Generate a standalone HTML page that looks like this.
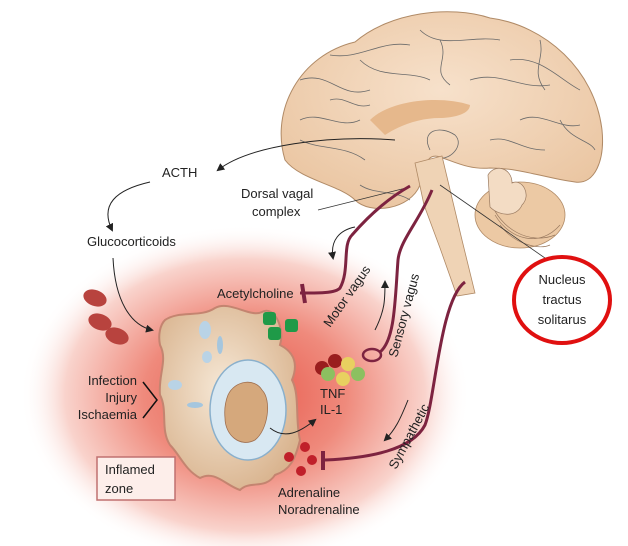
<!DOCTYPE html>
<html><head><style>
body{margin:0;background:#fff;}
svg{display:block;font-family:"Liberation Sans",Arial,sans-serif;}
</style></head><body>
<svg width="628" height="546" viewBox="0 0 628 546" xmlns="http://www.w3.org/2000/svg">
<defs>
<radialGradient id="glow" cx="0.5" cy="0.5" r="0.5">
<stop offset="0" stop-color="#e8574a"/>
<stop offset="0.45" stop-color="#ef8a7c"/>
<stop offset="0.8" stop-color="#f9d3cc"/>
<stop offset="1" stop-color="#ffffff" stop-opacity="0"/>
</radialGradient>
<radialGradient id="cellg" cx="0.45" cy="0.45" r="0.6">
<stop offset="0" stop-color="#f6e8d6"/>
<stop offset="1" stop-color="#d9b48f"/>
</radialGradient>
<radialGradient id="brain" cx="0.5" cy="0.4" r="0.7">
<stop offset="0" stop-color="#f7e1cb"/>
<stop offset="1" stop-color="#e9c39e"/>
</radialGradient>
<marker id="ah" markerWidth="8" markerHeight="8" refX="6" refY="4" orient="auto" markerUnits="userSpaceOnUse">
<path d="M0,0 L8,4 L0,8 Z" fill="#222"/>
</marker>
</defs>

<ellipse cx="245" cy="395" rx="225" ry="170" fill="url(#glow)"/>

<!-- brain -->
<path d="M285,160 C270,110 300,55 355,42 C390,12 450,5 490,18 C545,25 595,70 602,130 C605,160 595,185 575,182 C545,178 520,168 490,168 C470,170 455,162 440,157 C425,152 425,170 420,185 C410,210 370,215 355,200 C340,185 300,180 285,160 Z" fill="url(#brain)" stroke="#b08a66" stroke-width="1"/>
<path d="M300,80 C330,70 340,100 370,90 M330,55 C360,60 380,40 410,45 M420,30 C440,50 470,35 500,40 M510,60 C540,55 560,80 580,90 M300,120 C320,110 340,130 360,120 M560,120 C570,140 590,140 595,150 M470,80 C500,70 520,90 550,85 M360,60 C380,80 410,70 430,80 M520,120 C540,110 560,130 580,125 M300,140 C320,150 345,145 365,160 M440,40 C450,60 430,70 450,85 M540,40 C545,60 530,70 545,90 M330,100 C345,95 355,110 370,105 M490,140 C510,135 520,150 545,150 M360,185 C375,195 395,190 410,200" stroke="#6a6a6a" stroke-width="0.8" fill="none"/>
<path d="M370,120 C390,100 440,95 470,105 C470,115 450,118 440,118 C420,118 400,125 385,135 Z" fill="#e6b88c"/>
<path d="M430,150 C420,130 440,125 455,135 C465,145 450,160 440,158" stroke="#6a6a6a" stroke-width="0.8" fill="none"/>
<path d="M415,163 L442,156 L462,240 L475,293 L457,296 L440,248 L424,205 Z" fill="#efd3b5" stroke="#b08a66" stroke-width="0.8"/>
<ellipse cx="520" cy="215" rx="45" ry="33" fill="#ecc9a4" stroke="#b08a66" stroke-width="0.8"/>
<path d="M490,200 C500,230 530,245 555,235 M495,215 C510,240 540,248 560,225 M500,225 C515,245 540,250 550,245" stroke="#9a7a60" stroke-width="0.7" fill="none"/>
<path d="M488,175 C495,163 512,168 512,183 C522,178 532,195 522,205 C517,217 500,217 490,207 Z" fill="#f3dcc4" stroke="#9a7a60" stroke-width="0.7"/>

<line x1="318" y1="210" x2="410" y2="187" stroke="#333" stroke-width="0.8"/>
<line x1="440" y1="185" x2="555" y2="265" stroke="#333" stroke-width="0.8"/>

<path d="M395,140 C330,135 250,145 218,170" stroke="#222" stroke-width="1" fill="none" marker-end="url(#ah)"/>
<path d="M150,182 C115,190 100,205 112,230" stroke="#222" stroke-width="1" fill="none" marker-end="url(#ah)"/>
<path d="M113,258 C115,300 130,325 152,330" stroke="#222" stroke-width="1" fill="none" marker-end="url(#ah)"/>

<!-- nerves -->
<path d="M410,186 C385,200 365,220 352,235 C342,245 350,270 340,288 C335,294 312,293 300,293" stroke="#7d2340" stroke-width="3" fill="none"/>
<path d="M302,284 L305,303" stroke="#7d2340" stroke-width="4"/>
<path d="M432,190 C420,220 400,240 398,260 C395,300 395,340 380,352" stroke="#7d2340" stroke-width="3" fill="none"/>
<ellipse cx="372" cy="355" rx="9" ry="6" fill="none" stroke="#7d2340" stroke-width="2.5"/>
<path d="M465,282 C440,300 435,400 425,425 C412,450 370,458 325,460" stroke="#7d2340" stroke-width="3" fill="none"/>
<line x1="323" y1="451" x2="323" y2="470" stroke="#7d2340" stroke-width="4"/>

<path d="M355,227 C340,230 330,240 333,258" stroke="#222" stroke-width="1" fill="none" marker-end="url(#ah)"/>
<path d="M375,330 C385,310 385,300 385,282" stroke="#222" stroke-width="1" fill="none" marker-end="url(#ah)"/>
<path d="M408,400 C400,420 395,430 385,440" stroke="#222" stroke-width="1" fill="none" marker-end="url(#ah)"/>

<!-- cell -->
<path d="M165,320 C180,310 200,318 215,308 C230,300 250,318 262,312 C275,305 285,330 280,345 C290,350 300,360 292,380 C300,395 295,420 300,440 C295,460 290,470 275,475 C265,490 250,480 240,490 C225,485 215,470 200,478 C185,470 180,455 170,445 C160,430 168,410 160,395 C158,375 168,360 160,345 C158,335 160,325 165,320 Z" fill="url(#cellg)" stroke="#c48470" stroke-width="2"/>
<ellipse cx="248" cy="410" rx="38" ry="50" fill="#d8e8f2" stroke="#8ab0cc" stroke-width="1.5"/>
<path d="M228,395 C235,380 255,378 262,390 C272,400 268,430 255,440 C240,448 225,435 225,418 C224,408 226,400 228,395 Z" fill="#d5a87c" stroke="#a07050" stroke-width="0.8"/>
<ellipse cx="205" cy="330" rx="6" ry="9" fill="#b9d3e6"/>
<ellipse cx="175" cy="385" rx="7" ry="5" fill="#b9d3e6"/>
<ellipse cx="207" cy="357" rx="5" ry="6" fill="#b9d3e6"/>
<ellipse cx="220" cy="345" rx="3" ry="9" fill="#a5c6de"/>
<ellipse cx="195" cy="405" rx="8" ry="3" fill="#a5c6de"/>

<path d="M270,428 C285,440 300,432 315,420" stroke="#222" stroke-width="1" fill="none" marker-end="url(#ah)"/>

<ellipse cx="95" cy="298" rx="12" ry="8" fill="#b8433e" transform="rotate(20 95 298)"/>
<ellipse cx="100" cy="322" rx="12" ry="8" fill="#b8433e" transform="rotate(20 100 322)"/>
<ellipse cx="117" cy="336" rx="12" ry="8" fill="#b8433e" transform="rotate(20 117 336)"/>

<rect x="263" y="312" width="13" height="13" rx="3" fill="#1f9a48"/>
<rect x="285" y="319" width="13" height="13" rx="3" fill="#1f9a48"/>
<rect x="268" y="327" width="13" height="13" rx="3" fill="#1f9a48"/>

<circle cx="322" cy="368" r="7" fill="#9a1e1e"/>
<circle cx="335" cy="361" r="7" fill="#9a1e1e"/>
<circle cx="348" cy="364" r="7" fill="#e8d060"/>
<circle cx="328" cy="374" r="7" fill="#8cc060"/>
<circle cx="343" cy="379" r="7" fill="#e8d060"/>
<circle cx="358" cy="374" r="7" fill="#8cc060"/>

<g fill="#c0202a">
<circle cx="305" cy="447" r="5"/><circle cx="289" cy="457" r="5"/><circle cx="312" cy="460" r="5"/><circle cx="301" cy="471" r="5"/>
</g>

<path d="M143,382 L157,400 L143,418" stroke="#111" stroke-width="1.5" fill="none"/>

<rect x="97" y="457" width="78" height="43" fill="#fdeeea" stroke="#c07070" stroke-width="1.5"/>

<ellipse cx="562" cy="300" rx="48" ry="43" fill="#fff" stroke="#e01010" stroke-width="4"/>

<g fill="#222" font-size="13">
<text x="162" y="177">ACTH</text>
<text x="87" y="246">Glucocorticoids</text>
<text x="241" y="198">Dorsal vagal</text>
<text x="252" y="216">complex</text>
<text x="217" y="298">Acetylcholine</text>
<text x="137" y="385" text-anchor="end">Infection</text>
<text x="137" y="402" text-anchor="end">Injury</text>
<text x="137" y="419" text-anchor="end">Ischaemia</text>
<text x="320" y="398">TNF</text>
<text x="320" y="414">IL-1</text>
<text x="278" y="497">Adrenaline</text>
<text x="278" y="514">Noradrenaline</text>
<text x="105" y="474">Inflamed</text>
<text x="105" y="493">zone</text>
<text x="562" y="284" text-anchor="middle">Nucleus</text>
<text x="562" y="304" text-anchor="middle">tractus</text>
<text x="562" y="324" text-anchor="middle">solitarus</text>
<text transform="translate(330,328) rotate(-55)">Motor vagus</text>
<text transform="translate(397,358) rotate(-75)">Sensory vagus</text>
<text transform="translate(396,470) rotate(-62)">Sympathetic</text>
</g>
</svg>
</body></html>
